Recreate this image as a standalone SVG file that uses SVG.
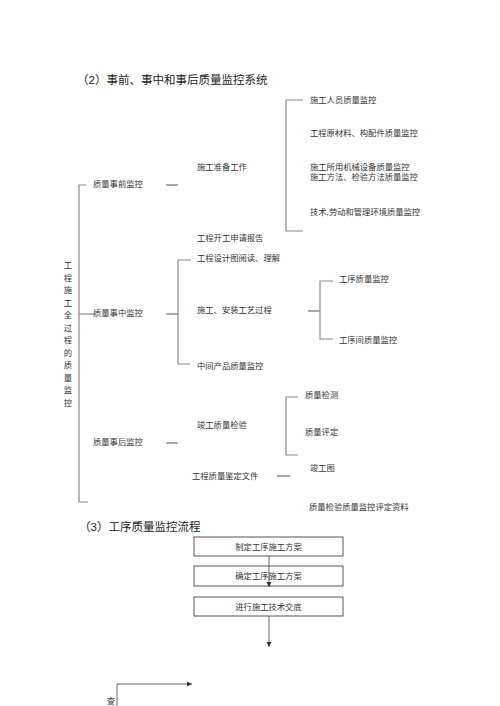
<svg xmlns="http://www.w3.org/2000/svg" width="500" height="706" viewBox="0 0 500 706">
<defs>
<style>
text{font-family:"Liberation Sans","Noto Sans CJK SC",sans-serif;fill:#333;}
.t{font-size:8.3px;}
.h{font-size:11.5px;fill:#222;}
.b{fill:none;stroke:#8a8a8a;stroke-width:1.2;}
.d{fill:none;stroke:#555;stroke-width:1;}
.box{fill:none;stroke:#444;stroke-width:0.9;}
.a{fill:none;stroke:#555;stroke-width:0.9;marker-end:url(#ah);}
</style>
<marker id="ah" markerWidth="6" markerHeight="6" refX="5" refY="3" orient="auto" markerUnits="userSpaceOnUse">
<path d="M0,0.5 L5,3 L0,5.5 z" fill="#333"/>
</marker>
</defs>
<rect width="500" height="706" fill="#fff"/>
<text class="h" x="77" y="84">（2）事前、事中和事后质量监控系统</text>
<text class="h" x="79" y="531">（3）工序质量监控流程</text>

<g id="connectors">
<path class="b" d="M86,185 H79 V502 H88"/>
<path class="b" d="M79,314 H95"/>
<path class="d" d="M166,185 H178"/>
<path class="d" d="M166,314 H178"/>
<path class="d" d="M166,443 H178"/>
<path class="b" d="M303,100 H286 V231 H303"/>
<path class="b" d="M191,260 H178 V364 H190"/>
<path class="d" d="M308,311 H320"/>
<path class="b" d="M333,281 H320 V339 H333"/>
<path class="b" d="M298,397 H286 V455 H298"/>
<path class="d" d="M277,476 H290"/>
<path class="a" d="M269,556 V587"/>
<path class="a" d="M269,616 V647"/>
<path class="a" d="M117,706 V684 H192"/>
</g>

<g id="root"><text class="t" x="68" y="268" text-anchor="middle">工</text><text class="t" x="68" y="280.5" text-anchor="middle">程</text><text class="t" x="68" y="293" text-anchor="middle">施</text><text class="t" x="68" y="305.5" text-anchor="middle">工</text><text class="t" x="68" y="318" text-anchor="middle">全</text><text class="t" x="68" y="330.5" text-anchor="middle">过</text><text class="t" x="68" y="343" text-anchor="middle">程</text><text class="t" x="68" y="355.5" text-anchor="middle">的</text><text class="t" x="68" y="368" text-anchor="middle">质</text><text class="t" x="68" y="380.5" text-anchor="middle">量</text><text class="t" x="68" y="393" text-anchor="middle">监</text><text class="t" x="68" y="405.5" text-anchor="middle">控</text></g>

<g id="n-before"><text class="t" x="93" y="187">质量事前监控</text></g>
<g id="n-prep"><text class="t" x="197" y="170">施工准备工作</text></g>
<g id="n-p1"><text class="t" x="310" y="103">施工人员质量监控</text></g>
<g id="n-p2"><text class="t" x="310" y="136">工程原材料、构配件质量监控</text></g>
<g id="n-p3"><text class="t" x="310" y="170">施工所用机械设备质量监控</text><text class="t" x="310" y="180">施工方法、检验方法质量监控</text></g>
<g id="n-p4"><text class="t" x="310" y="215">技术,劳动和管理环境质量监控</text></g>
<g id="n-start"><text class="t" x="197" y="241">工程开工申请报告</text></g>

<g id="n-during"><text class="t" x="93" y="316">质量事中监控</text></g>
<g id="n-d1"><text class="t" x="197" y="261">工程设计图阅读、理解</text></g>
<g id="n-d2"><text class="t" x="197" y="313">施工、安装工艺过程</text></g>
<g id="n-d21"><text class="t" x="339" y="282">工序质量监控</text></g>
<g id="n-d22"><text class="t" x="339" y="343">工序间质量监控</text></g>
<g id="n-d3"><text class="t" x="197" y="369">中间产品质量监控</text></g>

<g id="n-after"><text class="t" x="93" y="445">质量事后监控</text></g>
<g id="n-a1"><text class="t" x="197" y="428">竣工质量检验</text></g>
<g id="n-a11"><text class="t" x="305" y="398">质量检测</text></g>
<g id="n-a12"><text class="t" x="305" y="435">质量评定</text></g>
<g id="n-a2"><text class="t" x="192" y="479">工程质量鉴定文件</text></g>
<g id="n-a21"><text class="t" x="310" y="471">竣工图</text></g>
<g id="n-a22"><text class="t" x="309" y="510">质量检验质量监控评定资料</text></g>

<g id="box1"><rect class="box" x="194" y="537" width="149" height="19"/><text class="t" x="268.5" y="549.5" text-anchor="middle">制定工序施工方案</text></g>
<g id="box2"><rect class="box" x="194" y="566" width="149" height="20"/><text class="t" x="268.5" y="579" text-anchor="middle">确定工序施工方案</text></g>
<g id="box3"><rect class="box" x="194" y="597" width="149" height="19"/><text class="t" x="268.5" y="609.5" text-anchor="middle">进行施工技术交底</text></g>
<g id="n-check"><text class="t" x="111" y="703.5" text-anchor="middle">查</text></g>
</svg>
